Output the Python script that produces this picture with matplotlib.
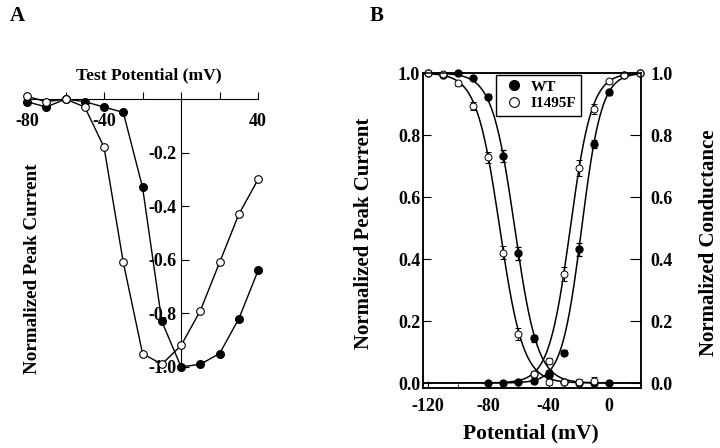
import numpy as np
import matplotlib.pyplot as plt

plt.rcParams['font.family'] = ['Liberation Serif', 'DejaVu Serif']
plt.rcParams['font.weight'] = 'bold'
plt.rcParams['axes.unicode_minus'] = False

# Panel A: current-voltage relationship
test_mv = [-80, -70, -60, -50, -40, -30, -20, -10, 0, 10, 20, 30, 40]
iv_wt = [-0.01, -0.03, 0.0, -0.01, -0.03, -0.05, -0.33, -0.83, -1.0, -0.99, -0.95, -0.82, -0.64]
iv_mut = [0.01, -0.01, 0.0, -0.03, -0.18, -0.61, -0.95, -0.99, -0.92, -0.79, -0.61, -0.43, -0.30]

# Panel B: steady-state inactivation (peak current) and activation (conductance)
inact_mv = [-120, -110, -100, -90, -80, -70, -60, -50, -40, -30, -20, -10, 0]
inact_wt = [1.0, 0.994, 1.0, 0.983, 0.924, 0.733, 0.418, 0.144, 0.031, 0.003, 0.0, 0.0, 0.0]
inact_wt_err = [0.004, 0.004, 0.004, 0.006, 0.008, 0.02, 0.022, 0.012, 0.01, 0.004, 0.004, 0.004, 0.004]
inact_mut_mv = [-120, -110, -100, -90, -80, -70, -60, -50, -40, -30, -20, -10]
inact_mut = [1.0, 0.997, 0.967, 0.894, 0.728, 0.421, 0.158, 0.03, 0.004, 0.003, 0.004, 0.006]
inact_mut_err = [0.004, 0.004, 0.008, 0.012, 0.018, 0.022, 0.018, 0.01, 0.01, 0.004, 0.01, 0.012]

act_mv = [-80, -70, -60, -50, -40, -30, -20, -10, 0, 10, 20]
act_wt = [0.0, 0.0, 0.002, 0.007, 0.025, 0.098, 0.431, 0.771, 0.938, 0.994, 1.0]
act_wt_err = [0.004, 0.004, 0.004, 0.006, 0.01, 0.008, 0.02, 0.012, 0.008, 0.004, 0.004]
act_mut_mv = [-50, -40, -30, -20, -10, 0, 10, 20]
act_mut = [0.03, 0.072, 0.352, 0.693, 0.884, 0.974, 0.995, 1.0]
act_mut_err = [0.006, 0.01, 0.022, 0.025, 0.015, 0.008, 0.004, 0.004]

# Boltzmann fit parameters (V1/2, slope k)
inact_fit_wt = (-62.4, 7.5)
inact_fit_mut = (-72.3, 7.7)
act_fit_wt = (-18.2, 6.6)
act_fit_mut = (-25.7, 7.1)

fig = plt.figure(figsize=(7.2, 4.48), dpi=100)

# ---------------- Panel A ----------------
axA = fig.add_axes([0.0375, 0.172, 0.321, 0.607])
axA.plot(test_mv, iv_wt, '-o', color='black', lw=1, ms=5.5,
         mfc='black', clip_on=False, zorder=3)
axA.plot(test_mv, iv_mut, '-o', color='black', lw=1, ms=5.5,
         mfc='white', mew=0.8, clip_on=False, zorder=3)
axA.set_xlim(-80, 40)
axA.set_ylim(-1.015, 0)
axA.spines['left'].set_position(('data', 0))
axA.spines['bottom'].set_position(('data', 0))
axA.spines['top'].set_visible(False)
axA.spines['right'].set_visible(False)
axA.set_xticks([-80, -60, -40, -20, 0, 20, 40])
axA.set_xticklabels(['-80', '', '-40', '', '', '', '40'])
axA.set_yticks([-1.0, -0.8, -0.6, -0.4, -0.2])
axA.set_yticklabels(['-1.0', '-0.8', '-0.6', '-0.4', '-0.2'])
axA.tick_params(axis='x', direction='in', length=5, pad=10, labelsize=13)
axA.tick_params(axis='y', direction='in', length=6, pad=3, labelsize=13)
for lab in axA.get_xticklabels() + axA.get_yticklabels():
    lab.set_fontweight('bold')

fig.text(149 / 720, 1 - 75 / 448, 'Test Potential (mV)', ha='center', va='center',
         fontsize=12.6, fontweight='bold')
fig.text(33 / 720, 1 - 269 / 448, 'Normalized Peak Current', ha='center', va='center',
         rotation=90, fontsize=13.7, fontweight='bold')
fig.text(10 / 720, 1 - 16 / 448, 'A', ha='left', va='center', fontsize=15, fontweight='bold')

# ---------------- Panel B ----------------
axB = fig.add_axes([0.5875, 0.134, 0.3028, 0.703])
v = np.linspace(-123, 21, 300)


def boltz_inact(p):
    return 1 / (1 + np.exp((v - p[0]) / p[1]))


def boltz_act(p):
    return 1 / (1 + np.exp((p[0] - v) / p[1]))


for curve in [boltz_inact(inact_fit_wt), boltz_inact(inact_fit_mut),
              boltz_act(act_fit_wt), boltz_act(act_fit_mut)]:
    axB.plot(v, curve, color='black', lw=1.1, zorder=2)

ekw = dict(fmt='o', color='black', ms=5, elinewidth=0.9, capsize=2.5,
           capthick=0.9, clip_on=False, zorder=3)
axB.errorbar(inact_mv, inact_wt, yerr=inact_wt_err, mfc='black', **ekw)
axB.errorbar(act_mv, act_wt, yerr=act_wt_err, mfc='black', **ekw)
axB.errorbar(inact_mut_mv, inact_mut, yerr=inact_mut_err, mfc='white', mew=0.7, **ekw)
axB.errorbar(act_mut_mv, act_mut, yerr=act_mut_err, mfc='white', mew=0.7, **ekw)

axB.set_xlim(-123, 21)
axB.set_ylim(-0.016, 1.0)
axB.set_xticks([-120, -80, -40, 0])
axB.set_xticks([-100, -60, -20], minor=True)
axB.set_yticks([0.0, 0.2, 0.4, 0.6, 0.8, 1.0])
axB.set_yticklabels(['0.0', '0.2', '0.4', '0.6', '0.8', '1.0'])
axB.tick_params(axis='both', which='both', direction='in', labelsize=13)
axB.tick_params(axis='x', which='major', length=5, pad=7)
axB.tick_params(axis='x', which='minor', length=3)
axB.tick_params(axis='y', length=6, pad=2)
for lab in axB.get_xticklabels() + axB.get_yticklabels():
    lab.set_fontweight('bold')

axR = axB.twinx()
axR.set_ylim(-0.016, 1.0)
axR.set_yticks([0.0, 0.2, 0.4, 0.6, 0.8, 1.0])
axR.set_yticklabels(['0.0', '0.2', '0.4', '0.6', '0.8', '1.0'])
axR.tick_params(axis='y', direction='in', length=8, pad=6.5, labelsize=13)
for lab in axR.get_yticklabels():
    lab.set_fontweight('bold')

for ax in (axB, axR):
    for s in ax.spines.values():
        s.set_linewidth(1.1)

h_wt = axB.plot([], [], 'o', color='black', ms=7, mfc='black')[0]
h_mut = axB.plot([], [], 'o', color='black', ms=7, mfc='white', mew=0.8)[0]
leg = axB.legend([h_wt, h_mut], ['WT', 'I1495F'], loc='upper left',
                 bbox_to_anchor=(0.335, 0.995), frameon=True, fancybox=False,
                 edgecolor='black', framealpha=1, borderpad=0.35,
                 handlelength=1.6, handletextpad=0.3, labelspacing=0.2,
                 borderaxespad=0, prop={'weight': 'bold', 'size': 11})
leg.get_frame().set_linewidth(1.0)

fig.text(531 / 720, 1 - 433 / 448, 'Potential (mV)', ha='center', va='center',
         fontsize=15.5, fontweight='bold')
fig.text(364 / 720, 1 - 233 / 448, 'Normalized Peak Current', ha='center', va='center',
         rotation=90, fontsize=15, fontweight='bold')
fig.text(709 / 720, 1 - 243 / 448, 'Normalized Conductance', ha='center', va='center',
         rotation=90, fontsize=15, fontweight='bold')
fig.text(370 / 720, 1 - 16 / 448, 'B', ha='left', va='center', fontsize=15, fontweight='bold')

fig.savefig('out.png', dpi=100)
